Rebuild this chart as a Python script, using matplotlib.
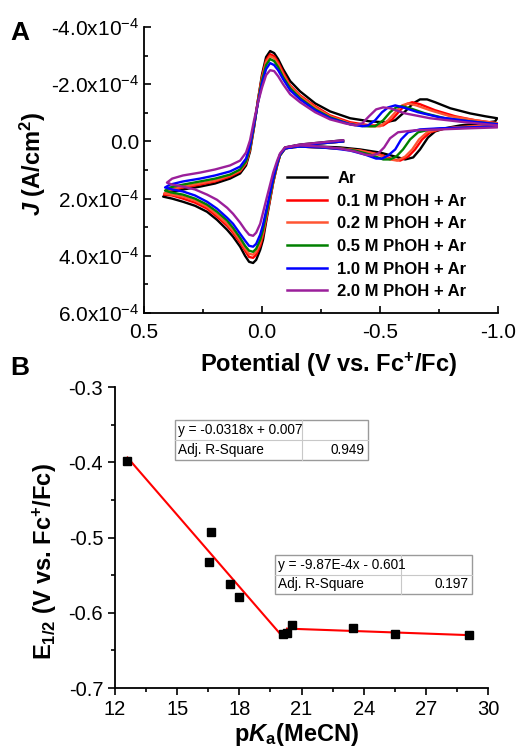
import numpy as np
import matplotlib
matplotlib.use('Agg')
import matplotlib.pyplot as plt
from matplotlib.ticker import MultipleLocator, FuncFormatter
from matplotlib.patches import Rectangle
from matplotlib.lines import Line2D

plt.rcParams['font.family'] = 'Liberation Sans'
plt.rcParams['mathtext.fontset'] = 'custom'
plt.rcParams['mathtext.rm'] = 'Liberation Sans'
plt.rcParams['mathtext.it'] = 'Liberation Sans:italic:bold'
plt.rcParams['mathtext.bf'] = 'Liberation Sans:bold'
plt.rcParams['axes.unicode_minus'] = False

ar_v = [-0.343, -0.246, -0.161, -0.097, -0.076, -0.064, -0.047, -0.034, -0.021, -0.004, 0.008, 0.025, 0.038, 0.055,
        0.072, 0.093, 0.123, 0.148, 0.191, 0.233, 0.284, 0.335, 0.381, 0.419,
        0.390, 0.335, 0.263, 0.199, 0.136, 0.093, 0.068, 0.051, 0.034, 0.017, 0.000, -0.017, -0.034, -0.051, -0.068,
        -0.089, -0.119, -0.161, -0.225, -0.288, -0.373, -0.458, -0.521, -0.564, -0.606, -0.640, -0.669, -0.699,
        -0.733, -0.797, -0.881, -0.945, -0.996,
        -0.987, -0.924, -0.839, -0.775, -0.733, -0.703, -0.669, -0.640, -0.606, -0.564, -0.500, -0.415, -0.331,
        -0.246, -0.161, -0.119]
ar_j = [-0.04, 0.04, 0.11, 0.21, 0.46, 0.81, 1.44, 2.04, 2.63, 3.44, 3.79, 4.14, 4.25, 4.21, 4.00, 3.68, 3.33, 3.09,
        2.74, 2.46, 2.25, 2.11, 2.00, 1.93,
        1.79, 1.68, 1.58, 1.47, 1.30, 1.12, 0.84, 0.35, -0.49, -1.47, -2.35, -2.95, -3.16, -3.09, -2.88, -2.53, -2.11,
        -1.75, -1.33, -1.05, -0.81, -0.70, -0.67, -0.74, -1.05, -1.33, -1.47, -1.47, -1.37, -1.16, -0.98, -0.88, -0.81,
        -0.70, -0.63, -0.56, -0.46, -0.35, -0.14, 0.28, 0.56, 0.63, 0.53, 0.39, 0.28, 0.21, 0.18, 0.14, 0.18]

phoh01_v = [-0.343, -0.246, -0.161, -0.097, -0.076, -0.064, -0.047, -0.034, -0.021, -0.004, 0.008, 0.025, 0.038,
            0.055, 0.072, 0.093, 0.123, 0.148, 0.191, 0.233, 0.284, 0.335, 0.381, 0.415,
            0.390, 0.335, 0.263, 0.199, 0.136, 0.093, 0.068, 0.051, 0.034, 0.017, 0.000, -0.017, -0.034, -0.051,
            -0.068, -0.089, -0.119, -0.161, -0.225, -0.288, -0.373, -0.458, -0.513, -0.551, -0.585, -0.610, -0.636,
            -0.669, -0.733, -0.818, -0.903, -1.000,
            -0.987, -0.903, -0.818, -0.754, -0.712, -0.678, -0.648, -0.619, -0.585, -0.555, -0.500, -0.415, -0.331,
            -0.246, -0.161, -0.119]
phoh01_j = [0.00, 0.07, 0.14, 0.25, 0.49, 0.84, 1.44, 2.00, 2.56, 3.30, 3.65, 3.96, 4.07, 4.04, 3.82, 3.54, 3.19,
            2.95, 2.63, 2.35, 2.14, 2.00, 1.89, 1.86,
            1.72, 1.61, 1.51, 1.40, 1.23, 1.05, 0.77, 0.28, -0.53, -1.47, -2.28, -2.84, -3.05, -2.98, -2.77, -2.42,
            -1.96, -1.61, -1.23, -0.91, -0.67, -0.56, -0.56, -0.77, -1.09, -1.30, -1.37, -1.30, -1.09, -0.88, -0.74,
            -0.63,
            -0.56, -0.53, -0.49, -0.42, -0.32, -0.07, 0.28, 0.53, 0.67, 0.63, 0.46, 0.32, 0.25, 0.21, 0.18, 0.21]

phoh02_v = [-0.343, -0.246, -0.161, -0.097, -0.076, -0.064, -0.047, -0.034, -0.021, -0.004, 0.008, 0.025, 0.038,
            0.055, 0.072, 0.093, 0.123, 0.148, 0.191, 0.233, 0.284, 0.335, 0.381, 0.415,
            0.390, 0.335, 0.263, 0.199, 0.136, 0.093, 0.068, 0.051, 0.034, 0.017, 0.000, -0.017, -0.034, -0.051,
            -0.068, -0.089, -0.119, -0.161, -0.225, -0.288, -0.373, -0.458, -0.500, -0.534, -0.568, -0.593, -0.619,
            -0.653, -0.712, -0.797, -0.903, -1.000,
            -0.992, -0.903, -0.818, -0.746, -0.699, -0.665, -0.636, -0.606, -0.572, -0.542, -0.492, -0.415, -0.331,
            -0.246, -0.161, -0.119]
phoh02_j = [0.00, 0.07, 0.14, 0.25, 0.49, 0.84, 1.40, 1.96, 2.49, 3.19, 3.54, 3.86, 3.96, 3.93, 3.75, 3.47, 3.12,
            2.88, 2.56, 2.28, 2.07, 1.93, 1.86, 1.82,
            1.68, 1.58, 1.47, 1.37, 1.19, 1.02, 0.74, 0.25, -0.53, -1.44, -2.21, -2.77, -2.98, -2.91, -2.70, -2.35,
            -1.93, -1.58, -1.19, -0.88, -0.63, -0.53, -0.53, -0.74, -1.05, -1.26, -1.33, -1.26, -1.09, -0.88, -0.74,
            -0.63,
            -0.56, -0.53, -0.49, -0.42, -0.32, -0.07, 0.28, 0.53, 0.67, 0.63, 0.46, 0.32, 0.25, 0.21, 0.18, 0.21]

phoh05_v = [-0.343, -0.246, -0.161, -0.097, -0.076, -0.064, -0.047, -0.034, -0.021, -0.004, 0.008, 0.025, 0.038,
            0.055, 0.072, 0.093, 0.123, 0.148, 0.191, 0.233, 0.284, 0.335, 0.381, 0.411,
            0.390, 0.335, 0.263, 0.199, 0.136, 0.093, 0.068, 0.051, 0.034, 0.017, 0.000, -0.017, -0.034, -0.051,
            -0.068, -0.089, -0.119, -0.161, -0.225, -0.288, -0.373, -0.436, -0.479, -0.513, -0.542, -0.568, -0.593,
            -0.627, -0.691, -0.775, -0.881, -1.000,
            -0.992, -0.903, -0.797, -0.712, -0.661, -0.627, -0.597, -0.568, -0.542, -0.513, -0.458, -0.394, -0.331,
            -0.246, -0.161, -0.119]
phoh05_j = [0.00, 0.07, 0.14, 0.25, 0.49, 0.81, 1.37, 1.89, 2.42, 3.09, 3.44, 3.75, 3.86, 3.82, 3.65, 3.37, 3.02,
            2.77, 2.46, 2.21, 2.00, 1.86, 1.79, 1.72,
            1.61, 1.51, 1.40, 1.30, 1.16, 0.98, 0.70, 0.21, -0.56, -1.40, -2.14, -2.67, -2.88, -2.81, -2.60, -2.25,
            -1.86, -1.51, -1.12, -0.84, -0.60, -0.53, -0.53, -0.74, -1.02, -1.19, -1.23, -1.16, -0.98, -0.81, -0.70,
            -0.60,
            -0.53, -0.49, -0.46, -0.42, -0.32, -0.07, 0.28, 0.53, 0.63, 0.63, 0.46, 0.32, 0.25, 0.21, 0.18, 0.21]

phoh10_v = [-0.343, -0.246, -0.161, -0.097, -0.076, -0.064, -0.047, -0.034, -0.021, -0.004, 0.008, 0.025, 0.038,
            0.055, 0.072, 0.093, 0.123, 0.148, 0.191, 0.233, 0.284, 0.335, 0.381, 0.411,
            0.390, 0.335, 0.263, 0.199, 0.136, 0.093, 0.068, 0.051, 0.034, 0.017, 0.000, -0.017, -0.034, -0.051,
            -0.068, -0.089, -0.119, -0.161, -0.225, -0.288, -0.373, -0.424, -0.449, -0.479, -0.508, -0.534, -0.564,
            -0.597, -0.661, -0.754, -0.881, -1.000,
            -0.992, -0.881, -0.754, -0.669, -0.619, -0.589, -0.564, -0.534, -0.508, -0.483, -0.436, -0.373, -0.309,
            -0.246, -0.161, -0.119]
phoh10_j = [0.00, 0.07, 0.14, 0.25, 0.46, 0.77, 1.30, 1.79, 2.28, 2.91, 3.26, 3.58, 3.68, 3.65, 3.47, 3.23, 2.88,
            2.67, 2.35, 2.11, 1.89, 1.75, 1.68, 1.61,
            1.51, 1.40, 1.30, 1.19, 1.05, 0.88, 0.60, 0.14, -0.60, -1.37, -2.04, -2.53, -2.74, -2.67, -2.49, -2.18,
            -1.79, -1.47, -1.09, -0.81, -0.60, -0.53, -0.56, -0.74, -1.02, -1.19, -1.26, -1.19, -1.02, -0.84, -0.70,
            -0.60,
            -0.53, -0.49, -0.46, -0.42, -0.32, -0.07, 0.28, 0.49, 0.60, 0.60, 0.46, 0.32, 0.25, 0.21, 0.18, 0.21]

phoh20_v = [-0.343, -0.246, -0.161, -0.097, -0.076, -0.064, -0.047, -0.034, -0.021, -0.004, 0.008, 0.025, 0.038,
            0.055, 0.072, 0.093, 0.123, 0.148, 0.191, 0.233, 0.284, 0.335, 0.381, 0.403,
            0.381, 0.335, 0.263, 0.199, 0.136, 0.093, 0.068, 0.051, 0.034, 0.017, 0.000, -0.017, -0.034, -0.051,
            -0.068, -0.089, -0.119, -0.161, -0.225, -0.288, -0.352, -0.394, -0.424, -0.453, -0.483, -0.513, -0.542,
            -0.606, -0.712, -0.860, -1.000,
            -0.996, -0.881, -0.754, -0.648, -0.576, -0.542, -0.517, -0.492, -0.466, -0.436, -0.394, -0.331, -0.246,
            -0.161, -0.119]
phoh20_j = [-0.04, 0.04, 0.11, 0.21, 0.42, 0.67, 1.09, 1.51, 1.93, 2.49, 2.88, 3.19, 3.30, 3.26, 3.09, 2.84, 2.53,
            2.32, 2.04, 1.86, 1.68, 1.58, 1.51, 1.44,
            1.30, 1.19, 1.09, 0.98, 0.84, 0.67, 0.39, -0.04, -0.74, -1.37, -1.89, -2.32, -2.49, -2.46, -2.28, -2.00,
            -1.65, -1.37, -1.02, -0.77, -0.63, -0.56, -0.63, -0.88, -1.12, -1.19, -1.16, -0.98, -0.81, -0.67, -0.56,
            -0.49, -0.46, -0.42, -0.39, -0.32, -0.11, 0.21, 0.42, 0.49, 0.46, 0.35, 0.25, 0.18, 0.14, 0.18]

cv_labels = ['Ar', '0.1 M PhOH + Ar', '0.2 M PhOH + Ar', '0.5 M PhOH + Ar', '1.0 M PhOH + Ar', '2.0 M PhOH + Ar']
cv_colors = ['#000000', '#ff0000', '#ff5533', '#008000', '#0000ff', '#9b1f9b']

# ---- Panel B data: E1/2 vs pKa(MeCN)
pka = [12.6, 16.63, 16.55, 17.55, 17.98, 20.1, 20.3, 20.54, 23.5, 25.5, 29.08]
e_half = [-0.398, -0.493, -0.532, -0.562, -0.579, -0.628, -0.627, -0.616, -0.620, -0.628, -0.629]
fit1_slope, fit1_icpt, fit1_range = -0.0318, 0.007, (12.6, 20.1)
fit2_slope, fit2_icpt, fit2_range = -9.87e-4, -0.601, (20.3, 29.08)
fit1_text = ['y = -0.0318x + 0.007', 'Adj. R-Square', '0.949']
fit2_text = ['y = -9.87E-4x - 0.601', 'Adj. R-Square', '0.197']

fig = plt.figure(figsize=(5.2, 7.55), dpi=100)

# ================= Panel A =================
ax = fig.add_axes([0.277, 0.5854, 0.681, 0.3788])
curves = [(ar_v, ar_j), (phoh01_v, phoh01_j), (phoh02_v, phoh02_j),
          (phoh05_v, phoh05_j), (phoh10_v, phoh10_j), (phoh20_v, phoh20_j)]
for (v, j), c, lab in zip(curves, cv_colors, cv_labels):
    ax.plot(v, np.array(j) * 1e-4, color=c, lw=1.7, label=lab, solid_joinstyle='round')

ax.set_xlim(0.5, -1.0)
ax.set_ylim(6e-4, -4e-4)
ax.xaxis.set_major_locator(MultipleLocator(0.5))
ax.xaxis.set_minor_locator(MultipleLocator(0.25))
ax.yaxis.set_major_locator(MultipleLocator(2e-4))
ax.yaxis.set_minor_locator(MultipleLocator(1e-4))


def fmt_j(val, pos):
    if abs(val) < 1e-12:
        return '0.0'
    return '%.1fx10$\\mathregular{^{-4}}$' % (val / 1e-4)


ax.yaxis.set_major_formatter(FuncFormatter(fmt_j))
ax.xaxis.set_major_formatter(FuncFormatter(lambda v, p: '%.1f' % v))
for s in ['top', 'right']:
    ax.spines[s].set_visible(False)
for s in ['left', 'bottom']:
    ax.spines[s].set_linewidth(1.3)
ax.tick_params(which='both', direction='in', width=1.2, labelsize=15)
ax.tick_params(which='major', length=5)
ax.tick_params(which='minor', length=3)
ax.tick_params(axis='x', pad=7)
ax.set_xlabel('Potential (V vs. Fc$\\mathregular{^{+}}$/Fc)', fontsize=17, fontweight='bold')
ax.set_ylabel('$\\mathit{J}$ (A/cm$\\mathregular{^{2}}$)', fontsize=17, fontweight='bold')
ax.xaxis.set_label_coords(0.52, -0.13)
ax.yaxis.set_label_coords(-0.27, 0.52)
leg = ax.legend(loc='upper left', bbox_to_anchor=(0.404, 0.497), frameon=False,
                handlelength=2.4, handletextpad=0.6, labelspacing=0.46,
                borderpad=0, borderaxespad=0, prop={'weight': 'bold', 'size': 12})
for h in leg.get_lines():
    h.set_linewidth(1.8)
fig.text(0.02, 0.956, 'A', fontsize=19, fontweight='bold', va='center')

# ================= Panel B =================
bx = fig.add_axes([0.2212, 0.0887, 0.7173, 0.3987])
for slope, icpt, (x0, x1) in [(fit1_slope, fit1_icpt, fit1_range), (fit2_slope, fit2_icpt, fit2_range)]:
    xs = np.array([x0, x1])
    bx.plot(xs, slope * xs + icpt, color='#ff0000', lw=1.5, zorder=2)
bx.plot(pka, e_half, 's', color='black', ms=5.5, zorder=3)
bx.set_xlim(12, 30)
bx.set_ylim(-0.7, -0.3)
bx.xaxis.set_major_locator(MultipleLocator(3))
bx.xaxis.set_minor_locator(MultipleLocator(1.5))
bx.yaxis.set_major_locator(MultipleLocator(0.1))
bx.yaxis.set_minor_locator(MultipleLocator(0.05))
bx.yaxis.set_major_formatter(FuncFormatter(lambda v, p: '%.1f' % v))
for s in ['top', 'right']:
    bx.spines[s].set_visible(False)
for s in ['left', 'bottom']:
    bx.spines[s].set_linewidth(1.3)
bx.tick_params(which='both', direction='out', width=1.2, labelsize=14.5)
bx.tick_params(which='major', length=5)
bx.tick_params(which='minor', length=3)
bx.set_xlabel('p$\\mathit{K}$$\\mathregular{_{a}}$(MeCN)', fontsize=17, fontweight='bold')
bx.set_ylabel('E$\\mathregular{_{1/2}}$ (V vs. Fc$\\mathregular{^{+}}$/Fc)', fontsize=17, fontweight='bold')
bx.xaxis.set_label_coords(0.488, -0.11)
bx.yaxis.set_label_coords(-0.15, 0.42)
fig.text(0.02, 0.513, 'B', fontsize=19, fontweight='bold', va='center')


def stats_table(axis, left, right, div, top, bottom, texts):
    mid = (top + bottom) / 2
    axis.add_patch(Rectangle((left, bottom), right - left, top - bottom, transform=axis.transAxes,
                             facecolor='white', edgecolor='#9a9a9a', lw=1.0, clip_on=False, zorder=4))
    axis.add_line(Line2D([left, right], [mid, mid], transform=axis.transAxes, color='#c8c8c8', lw=0.8,
                         clip_on=False, zorder=5))
    axis.add_line(Line2D([div, div], [bottom, top], transform=axis.transAxes, color='#c8c8c8', lw=0.8,
                         clip_on=False, zorder=5))
    pad = 0.009
    axis.text(left + pad, (top + mid) / 2, texts[0], transform=axis.transAxes, fontsize=9.8,
              va='center', ha='left', zorder=6)
    axis.text(left + pad, (mid + bottom) / 2, texts[1], transform=axis.transAxes, fontsize=9.8,
              va='center', ha='left', zorder=6)
    axis.text(right - pad, (mid + bottom) / 2, texts[2], transform=axis.transAxes, fontsize=9.8,
              va='center', ha='right', zorder=6)


stats_table(bx, 0.161, 0.678, 0.501, 0.890, 0.757, fit1_text)
stats_table(bx, 0.429, 0.957, 0.767, 0.442, 0.312, fit2_text)

fig.savefig('out.png', dpi=100)
